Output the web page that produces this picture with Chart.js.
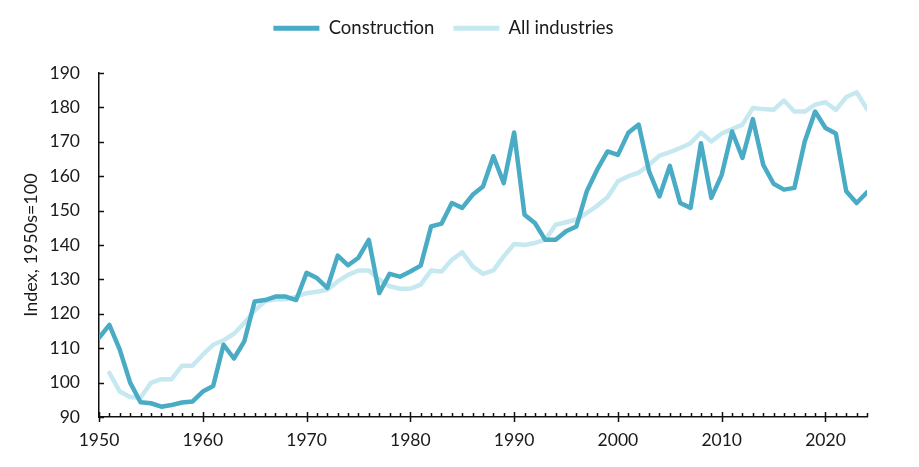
<!DOCTYPE html>
<html>
<head>
<meta charset="utf-8">
<script src="https://cdn.jsdelivr.net/npm/chart.js@4.4.1/dist/chart.umd.min.js"></script>
<style>
  html, body { margin: 0; padding: 0; background: #ffffff; }
  #wrap { width: 919px; height: 467px; position: relative; }
</style>
</head>
<body>
<div id="wrap"><canvas id="chart"></canvas></div>
<script>
// Years 1950 - 2024
const years = [];
for (let y = 1950; y <= 2024; y++) years.push(y);

// Construction index (1950s = 100)
const construction = [
  113, 116.8, 109.6, 100, 94.3, 94, 93, 93.5, 94.2, 94.5,
  97.4, 99, 111, 107, 112, 123.6, 124, 125, 125, 124,
  131.9, 130.4, 127.5, 136.9, 134.1, 136.3, 141.5, 126, 131.6, 130.8,
  132.3, 134, 145.4, 146.2, 152.2, 150.8, 154.6, 157, 165.8, 158,
  172.7, 148.8, 146.4, 141.5, 141.5, 144, 145.4, 155.6, 161.9, 167.2,
  166.2, 172.6, 175, 161.4, 154.1, 163, 152.2, 150.8, 169.6, 153.7,
  160.4, 173, 165.3, 176.6, 163.3, 157.8, 156.1, 156.6, 170.1, 178.8,
  174, 172.4, 155.6, 152.2, 155.3
];

// All industries index (starts 1951)
const allIndustries = [
  null, 102.8, 97.4, 95.8, 95.6, 99.9, 101, 101, 104.9, 104.9,
  108.1, 111, 112.3, 114.2, 117.3, 121, 123.6, 124.2, 124.2, 125,
  126, 126.4, 127, 129.4, 131.3, 132.6, 132.6, 130, 128, 127.3,
  127.3, 128.5, 132.6, 132.3, 135.7, 137.9, 133.8, 131.6, 132.6, 136.7,
  140.3, 140, 140.6, 141.5, 145.9, 146.6, 147.4, 149.3, 151.4, 153.9,
  158.5, 160, 161, 163.3, 166, 167, 168.2, 169.6, 172.7, 170.1,
  172.4, 173.7, 175, 179.8, 179.5, 179.3, 182, 178.8, 178.8, 180.8,
  181.5, 179.3, 183, 184.4, 179.5
];

const yTicks = [90, 100, 110, 120, 130, 140, 150, 160, 170, 180, 190];
const xTicks = [1950, 1960, 1970, 1980, 1990, 2000, 2010, 2020];

const seriesNames = ['Construction', 'All industries'];
const seriesColors = ['#4aabc5', '#c6e8f0'];

const fontFamily = 'Lato, "Open Sans", sans-serif';
const textColor = '#1a1a1a';

// Legend block takes a fixed height so the plot starts where the reference does,
// and sits a little right of the canvas centre like the original
const legendSpace = {
  id: 'legendSpace',
  beforeLayout(chart) {
    const lg = chart.legend;
    if (lg && !lg._fixedFit) {
      const origFit = lg.fit;
      lg.fit = function () {
        origFit.call(this);
        this.height = 73;
      };
      lg._fixedFit = true;
    }
  },
  afterLayout(chart) {
    const lg = chart.legend;
    if (lg) {
      lg.left += 10;
      lg.right += 10;
    }
  }
};

// Ticks inside the axes (minor every year on x)
const axisTicks = {
  id: 'axisTicks',
  afterDraw(chart) {
    const ctx = chart.ctx;
    const xs = chart.scales.x;
    const ys = chart.scales.y;
    const area = chart.chartArea;
    ctx.save();
    ctx.strokeStyle = '#111';
    ctx.lineWidth = 1.5;
    ctx.beginPath();
    years.forEach(yr => {
      const px = Math.round(xs.getPixelForValue(yr)) + 0.5;
      if (xTicks.includes(yr)) {
        ctx.moveTo(px, area.bottom - 5);
        ctx.lineTo(px, area.bottom + 5);
      } else {
        ctx.moveTo(px, area.bottom - 4);
        ctx.lineTo(px, area.bottom);
      }
    });
    yTicks.forEach(v => {
      const py = Math.round(ys.getPixelForValue(v)) + 0.5;
      ctx.moveTo(area.left, py);
      ctx.lineTo(area.left + 5, py);
    });
    ctx.stroke();
    ctx.restore();
  }
};

new Chart(document.getElementById('chart'), {
  type: 'line',
  data: {
    labels: years,
    datasets: [
      {
        label: seriesNames[0],
        data: years.map((yr, i) => ({ x: yr, y: construction[i] })),
        borderColor: seriesColors[0],
        backgroundColor: seriesColors[0],
        borderWidth: 4.5,
        pointRadius: 0,
        tension: 0,
        borderJoinStyle: 'round',
        borderCapStyle: 'round'
      },
      {
        label: seriesNames[1],
        data: years.map((yr, i) => ({ x: yr, y: allIndustries[i] })),
        borderColor: seriesColors[1],
        backgroundColor: seriesColors[1],
        borderWidth: 4.5,
        pointRadius: 0,
        tension: 0,
        borderJoinStyle: 'round',
        borderCapStyle: 'round'
      }
    ]
  },
  options: {
    responsive: true,
    maintainAspectRatio: false,
    animation: false,
    layout: {
      padding: { top: 0, right: 52, left: 0, bottom: 0 }
    },
    plugins: {
      legend: {
        position: 'top',
        labels: {
          color: textColor,
          font: { family: fontFamily, size: 18.5 },
          boxWidth: 46,
          boxHeight: 5,
          padding: 19,
          generateLabels(chart) {
            return chart.data.datasets.map((ds, i) => ({
              text: ds.label,
              fillStyle: ds.borderColor,
              strokeStyle: ds.borderColor,
              lineWidth: 0,
              fontColor: textColor,
              datasetIndex: i
            }));
          }
        }
      },
      tooltip: { enabled: false }
    },
    scales: {
      x: {
        type: 'linear',
        min: 1950,
        max: 2024,
        afterBuildTicks(scale) {
          scale.ticks = xTicks.map(v => ({ value: v }));
        },
        afterFit(scale) {
          scale.height = 50;
        },
        grid: { display: false, drawTicks: false },
        border: { display: true, color: '#111', width: 1.5 },
        ticks: {
          color: textColor,
          font: { family: fontFamily, size: 17.5 },
          padding: 13,
          maxRotation: 0,
          autoSkip: false,
          callback: v => String(v)
        }
      },
      y: {
        min: 90,
        max: 190,
        afterBuildTicks(scale) {
          scale.ticks = yTicks.map(v => ({ value: v }));
        },
        afterFit(scale) {
          scale.width = 99;
        },
        grid: { display: false, drawTicks: false },
        border: { display: true, color: '#111', width: 1.5 },
        title: {
          display: true,
          text: 'Index, 1950s=100',
          color: textColor,
          font: { family: fontFamily, size: 18 },
          padding: { top: 20, bottom: 0 }
        },
        ticks: {
          color: textColor,
          font: { family: fontFamily, size: 17.5 },
          padding: 19
        }
      }
    }
  },
  plugins: [legendSpace, axisTicks]
});
</script>
</body>
</html>
